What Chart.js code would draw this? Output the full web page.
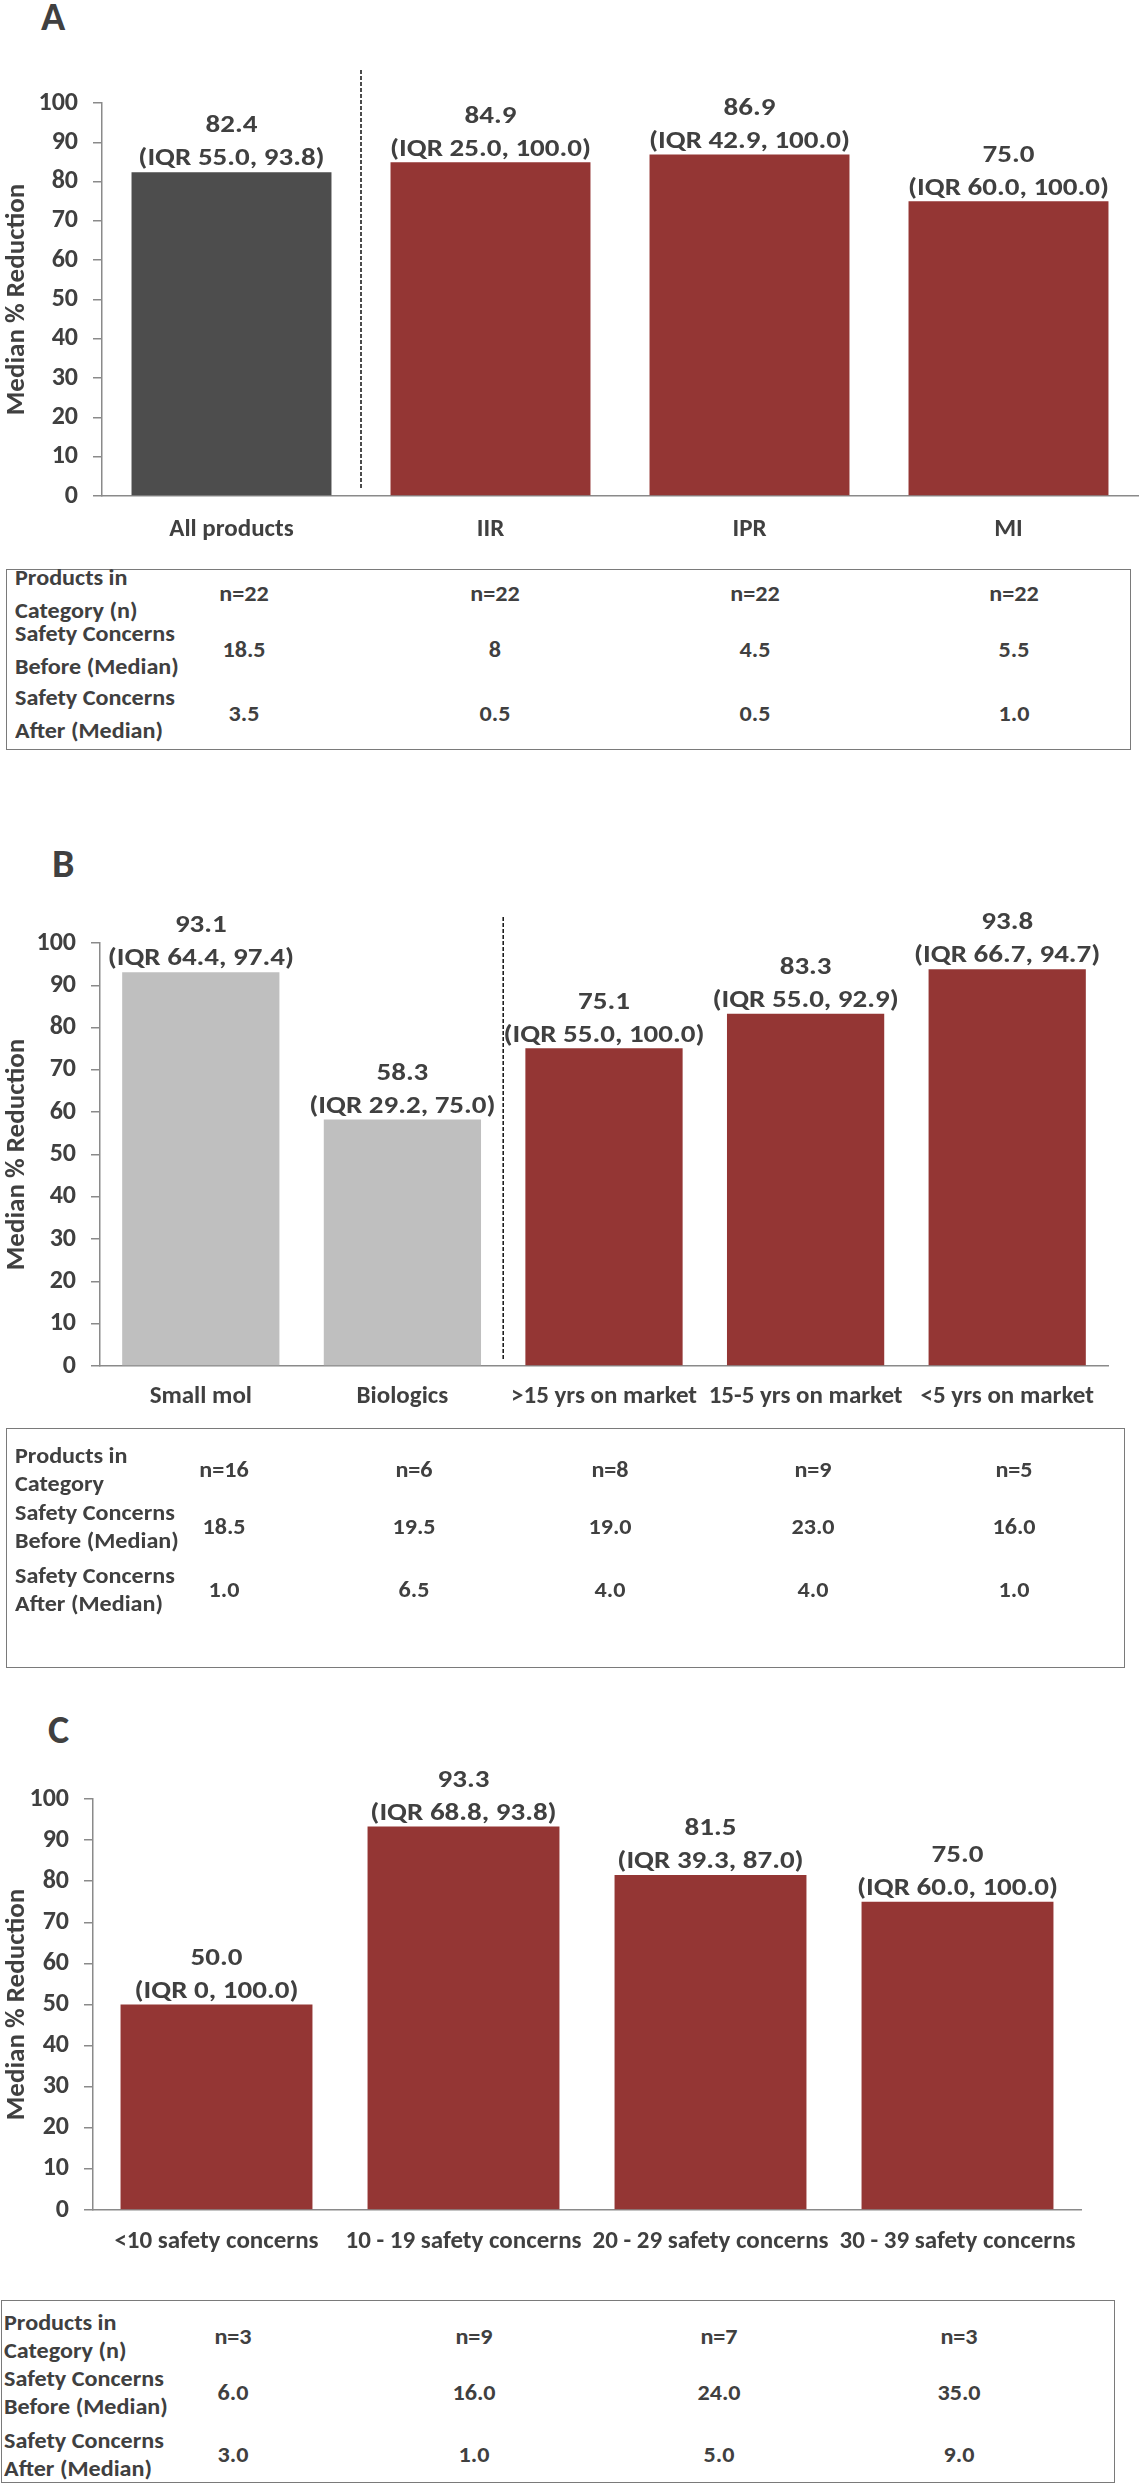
<!DOCTYPE html>
<html>
<head>
<meta charset="utf-8">
<script src="https://cdn.jsdelivr.net/npm/chart.js@4.4.1/dist/chart.umd.min.js"></script>
<style>
  body { margin: 0; background: #fff; }
  #page { position: relative; width: 1144px; height: 2483px; overflow: hidden; font-family: Carlito, Calibri, sans-serif; color: #404040; }
  canvas { position: absolute; left: 0; }
  .panel { position: absolute; font-size: 40px; font-weight: bold; line-height: 40px; }
  .box { position: absolute; border: 1.5px solid #7a7a7a; box-sizing: border-box; }
  .txt { position: absolute; font-size: 23px; font-weight: bold; white-space: nowrap; transform: scaleX(1.05); transform-origin: left center; }
  .val { text-align: center; width: 200px; transform-origin: center center; }
</style>
</head>
<body>
<div id="page">
  <div class="panel" style="left:41px;top:-3px">A</div>
  <div class="panel" style="left:52px;top:844px">B</div>
  <div class="panel" style="left:48px;top:1710px">C</div>
  <canvas id="chartA" width="1144" height="560" style="top:0px"></canvas>
  <canvas id="chartB" width="1144" height="610" style="top:820px"></canvas>
  <canvas id="chartC" width="1144" height="575" style="top:1700px"></canvas>
</div>
<script>
// Panel A
const catsA = ['All products', 'IIR', 'IPR', 'MI'];
const medianA = [82.4, 84.9, 86.9, 75.0];
const iqrA = ['(IQR 55.0, 93.8)', '(IQR 25.0, 100.0)', '(IQR 42.9, 100.0)', '(IQR 60.0, 100.0)'];
const nA = [22, 22, 22, 22];
const beforeA = ['18.5', '8', '4.5', '5.5'];
const afterA = ['3.5', '0.5', '0.5', '1.0'];

// Panel B
const catsB = ['Small mol', 'Biologics', '>15 yrs on market', '15-5 yrs on market', '<5 yrs on market'];
const medianB = [93.1, 58.3, 75.1, 83.3, 93.8];
const iqrB = ['(IQR 64.4, 97.4)', '(IQR 29.2, 75.0)', '(IQR 55.0, 100.0)', '(IQR 55.0, 92.9)', '(IQR 66.7, 94.7)'];
const nB = [16, 6, 8, 9, 5];
const beforeB = ['18.5', '19.5', '19.0', '23.0', '16.0'];
const afterB = ['1.0', '6.5', '4.0', '4.0', '1.0'];

// Panel C
const catsC = ['<10 safety concerns', '10 - 19 safety concerns', '20 - 29 safety concerns', '30 - 39 safety concerns'];
const medianC = [50.0, 93.3, 81.5, 75.0];
const iqrC = ['(IQR 0, 100.0)', '(IQR 68.8, 93.8)', '(IQR 39.3, 87.0)', '(IQR 60.0, 100.0)'];
const nC = [3, 9, 7, 3];
const beforeC = ['6.0', '16.0', '24.0', '35.0'];
const afterC = ['3.0', '1.0', '5.0', '9.0'];

const yTicks = [0, 10, 20, 30, 40, 50, 60, 70, 80, 90, 100];
const rowLabelsA = ['Products in<br>Category (n)', 'Safety Concerns<br>Before (Median)', 'Safety Concerns<br>After (Median)'];
const rowLabelsB = ['Products in<br>Category', 'Safety Concerns<br>Before (Median)', 'Safety Concerns<br>After (Median)'];

const textCol = '#404040';
const axisCol = '#8a8a8a';
const red = '#943634';
const dark = '#4d4d4d';
const grey = '#bfbfbf';
const fam = 'Carlito, Calibri, sans-serif';

Chart.defaults.font.family = fam;
Chart.defaults.color = textCol;

// Zwei Zeilen ueber jedem Balken: Median und IQR
const labelPlugin = {
  id: 'barLabels',
  afterDatasetsDraw(chart) {
    const ctx = chart.ctx;
    const iqr = chart.options.plugins.barLabels.iqr;
    const meta = chart.getDatasetMeta(0);
    meta.data.forEach((bar, i) => {
      const v = chart.data.datasets[0].data[i];
      ctx.save();
      ctx.translate(bar.x, bar.y);
      ctx.scale(1.16, 1);
      ctx.fillStyle = textCol;
      ctx.font = 'bold 25px ' + fam;
      ctx.textAlign = 'center';
      ctx.textBaseline = 'middle';
      ctx.fillText(v.toFixed(1), 0, -46);
      ctx.fillText(iqr[i], 0, -13);
      ctx.restore();
    });
  }
};

// gestrichelte Trennlinie zwischen zwei Kategorien
const sepPlugin = {
  id: 'separator',
  afterDatasetsDraw(chart) {
    const o = chart.options.plugins.separator;
    if (o.after == null) return;
    const x = chart.scales.x;
    const px = (x.getPixelForValue(o.after) + x.getPixelForValue(o.after + 1)) / 2;
    const ctx = chart.ctx;
    ctx.save();
    ctx.strokeStyle = '#111';
    ctx.lineWidth = 1.5;
    ctx.setLineDash([4, 2]);
    ctx.beginPath();
    ctx.moveTo(px, chart.chartArea.top - o.above);
    ctx.lineTo(px, chart.chartArea.bottom - 6);
    ctx.stroke();
    ctx.restore();
  }
};

function makeChart(id, cats, vals, colors, iqr, cfg) {
  return new Chart(document.getElementById(id), {
    type: 'bar',
    data: {
      labels: cats,
      datasets: [{
        data: vals,
        backgroundColor: colors,
        barPercentage: cfg.barPct,
        categoryPercentage: 1
      }]
    },
    options: {
      responsive: false,
      animation: false,
      devicePixelRatio: 1,
      layout: { padding: { top: cfg.top, right: cfg.right, left: 0, bottom: 0 } },
      plugins: {
        legend: { display: false },
        tooltip: { enabled: false },
        barLabels: { iqr: iqr },
        separator: { after: cfg.sepAfter, above: cfg.sepAbove }
      },
      scales: {
        x: {
          grid: { display: true, drawOnChartArea: false, drawTicks: false },
          border: { display: true, color: axisCol, width: 1.5 },
          ticks: { color: textCol, font: { size: 25, weight: 'bold' }, padding: cfg.xPad, maxRotation: 0, autoSkip: false },
          afterFit: s => { s.height = cfg.xH; }
        },
        y: {
          min: 0,
          max: 100,
          afterBuildTicks: s => { s.ticks = yTicks.map(v => ({ value: v })); },
          ticks: { color: textCol, font: { size: 26, weight: 'bold' }, padding: 15 },
          grid: { drawOnChartArea: false, tickLength: 9, color: axisCol, lineWidth: 1.5 },
          border: { color: axisCol, width: 1.5 },
          title: {
            display: true,
            text: 'Median % Reduction',
            color: textCol,
            font: { size: 27, weight: 'bold' },
            padding: { top: 1, bottom: 0 }
          },
          afterFit: s => { s.width = cfg.yW; }
        }
      }
    },
    plugins: [labelPlugin, sepPlugin]
  });
}

makeChart('chartA', catsA, medianA, [dark, red, red, red], iqrA,
  { top: 103, right: 6, xH: 64, yW: 102, barPct: 0.772, xPad: 19, sepAfter: 0, sepAbove: 33 });
makeChart('chartB', catsB, medianB, [grey, grey, red, red, red], iqrB,
  { top: 123, right: 36, xH: 64, yW: 100, barPct: 0.78, xPad: 16, sepAfter: 1, sepAbove: 26 });
makeChart('chartC', catsC, medianC, [red, red, red, red], iqrC,
  { top: 99, right: 63, xH: 65, yW: 93, barPct: 0.777, xPad: 17, sepAfter: null, sepAbove: 0 });

// Tabellen unter den Diagrammen
function buildTable(t, rowLabels, rows) {
  const page = document.getElementById('page');
  const box = document.createElement('div');
  box.className = 'box';
  box.style.cssText = `left:${t.left}px;top:${t.top}px;width:${t.right - t.left}px;height:${t.bottom - t.top}px`;
  page.appendChild(box);
  rowLabels.forEach((lab, r) => {
    const d = document.createElement('div');
    d.className = 'txt';
    d.style.cssText = `left:${t.labelX}px;top:${t.rowY[r] - t.lineH / 2}px;line-height:${t.lineH}px`;
    d.innerHTML = lab;
    page.appendChild(d);
    rows[r].forEach((v, c) => {
      const e = document.createElement('div');
      e.className = 'txt val';
      e.style.cssText = `left:${t.cols[c] - 100}px;top:${t.rowY[r]}px;line-height:${t.lineH}px`;
      e.textContent = v;
      page.appendChild(e);
    });
  });
}

buildTable({ left: 6, right: 1131, top: 569, bottom: 750, lineH: 33, labelX: 15,
  rowY: [577, 633, 697], cols: [244, 495, 755, 1014] },
  rowLabelsA, [nA.map(n => 'n=' + n), beforeA, afterA]);
buildTable({ left: 6, right: 1125, top: 1428, bottom: 1668, lineH: 28, labelX: 15,
  rowY: [1455, 1512, 1575], cols: [224, 414, 610, 813, 1014] },
  rowLabelsB, [nB.map(n => 'n=' + n), beforeB, afterB]);
buildTable({ left: 1, right: 1115, top: 2300, bottom: 2483, lineH: 28, labelX: 4,
  rowY: [2322, 2378, 2440], cols: [233, 474, 719, 959] },
  rowLabelsA, [nC.map(n => 'n=' + n), beforeC, afterC]);
</script>
</body>
</html>
